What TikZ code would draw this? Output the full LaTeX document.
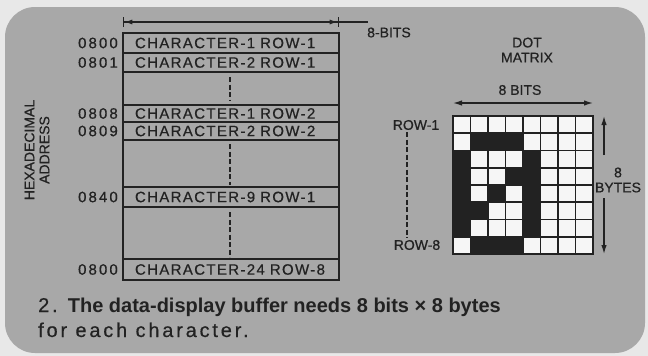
\documentclass[tikz,border=0pt]{standalone}
\usepackage{fontspec}
\setmainfont{Liberation Sans}
\newfontfamily\lblfont{Liberation Sans}[FakeBold=0.6]
\newfontfamily\rowfont{Liberation Sans}[LetterSpace=9, FakeBold=0.6]
\newfontfamily\addrfont{Liberation Sans}[LetterSpace=14, FakeBold=0.6]
\newfontfamily\capfont{Liberation Sans}[LetterSpace=14, FakeBold=0.4]
\usepackage{tikz}
\usetikzlibrary{positioning,arrows.meta}

\definecolor{paper}{RGB}{232,232,232}
\definecolor{panel}{RGB}{168,168,168}
\definecolor{ink}{RGB}{34,34,34}
\definecolor{dotwhite}{RGB}{246,246,246}

\begin{document}
\begin{tikzpicture}[x=1pt, y=-1pt,
            memrow/.style={draw=ink, line width=1.6pt, rectangle, minimum width=216pt, text width=192pt, align=left, inner xsep=12pt, inner ysep=0pt, outer sep=0pt, font=\fontsize{15}{16}\rowfont, text=ink},
            addr/.style={inner sep=0pt, font=\fontsize{15}{16}\addrfont, text=ink},
            lbl/.style={inner sep=2pt, font=\fontsize{14}{15}\lblfont, text=ink},
            dashline/.style={draw=ink, line width=1.3pt, dash pattern=on 5pt off 2.5pt},
            dimbar/.style={draw=ink, line width=1.3pt, {Bar[width=10pt]Latex[length=8pt,width=5pt]}-{Latex[length=8pt,width=5pt]Bar[width=10pt]}},
            dimarrow/.style={draw=ink, line width=1.3pt, {Latex[length=9pt,width=5.5pt]}-{Latex[length=9pt,width=5.5pt]}},
            onearrow/.style={draw=ink, line width=1.3pt, -{Latex[length=9pt,width=5.5pt]}},
            gridline/.style={draw=ink, line width=1.6pt}
        ]

        % Hintergrund
        \useasboundingbox (0,0) rectangle (648,356);
        \fill[paper] (0,0) rectangle (648,356);
        \fill[panel, rounded corners=30pt] (5,7) rectangle (645,353);

        % Speicherzeilen
        \node[memrow, minimum height=20pt] (r1) at (231,43) {CHARACTER-1 ROW-1};
        \node[memrow, minimum height=19pt, below=0pt of r1] (r2) {CHARACTER-2 ROW-1};
        \node[memrow, minimum height=33pt, below=0pt of r2] (g1) {};
        \node[memrow, minimum height=17pt, below=0pt of g1] (r3) {CHARACTER-1 ROW-2};
        \node[memrow, minimum height=18pt, below=0pt of r3] (r4) {CHARACTER-2 ROW-2};
        \node[memrow, minimum height=47pt, below=0pt of r4] (g2) {};
        \node[memrow, minimum height=20pt, below=0pt of g2] (r5) {CHARACTER-9 ROW-1};
        \node[memrow, minimum height=52pt, below=0pt of r5] (g3) {};
        \node[memrow, minimum height=21pt, below=0pt of g3] (r6) {CHARACTER-24 ROW-8};

        \draw[dashline] ([xshift=-1pt, yshift=-5pt]g1.north) -- ([xshift=-1pt, yshift=5pt]g1.south);
        \draw[dashline] ([xshift=-1pt, yshift=-4pt]g2.north) -- ([xshift=-1pt, yshift=2pt]g2.south);
        \draw[dashline] ([xshift=-1pt, yshift=-5pt]g3.north) -- ([xshift=-1pt, yshift=2pt]g3.south);

        % Adressen
        \node[addr, left=5pt of r1] (a1) {0800};
        \node[addr, left=5pt of r2] (a2) {0801};
        \node[addr, left=5pt of r3] (a3) {0808};
        \node[addr, left=5pt of r4] (a4) {0809};
        \node[addr, left=5pt of r5] (a5) {0840};
        \node[addr, left=5pt of r6] (a6) {0800};
        \node[lbl, rotate=90, align=center] (hexa) at (37,150) {HEXADECIMAL\\ADDRESS};

        % Breite 8 Bit
        \coordinate (wl) at ([yshift=11pt]r1.north west);
        \coordinate (wr) at ([yshift=11pt]r1.north east);
        \draw[dimbar] (wl) -- (wr);
        \draw[draw=ink, line width=1.3pt] (wr) -- ++(29,0) coordinate (wx);
        \node[lbl] (bits) at (389,32.5) {8-BITS};

        % Punktmatrix
        \node[lbl, align=center] (dotm) at (527,50) {DOT\\MATRIX};
        \node[draw=ink, line width=1.6pt, fill=dotwhite, rectangle, minimum width=140pt, minimum height=138pt, inner sep=0pt, outer sep=0pt, anchor=north west] (dm) at (453,116) {};
        \foreach \c/\r in {1/1,2/1,3/1, 0/2,4/2, 0/3,3/3,4/3, 0/4,2/4,4/4, 0/5,1/5,4/5, 0/6,4/6, 1/7,2/7,3/7}
            \fill[ink] (453+17.5*\c,116+17.25*\r) rectangle ++(17.5,17.25);
        \foreach \i in {1,...,7} {
            \draw[gridline] (453+17.5*\i,116) -- ++(0,138);
            \draw[gridline] (453,116+17.25*\i) -- ++(140,0);
        }
        \draw[draw=ink, line width=1.6pt] (dm.north west) rectangle (dm.south east);

        \node[lbl] (eightbits) at (520,90) {8 BITS};
        \draw[dimarrow] ([yshift=13pt]dm.north west) -- ([yshift=13pt]dm.north east);

        \node[lbl, align=center] (bytes) at (618,180) {8\\BYTES};
        \coordinate (bt) at ([xshift=11pt]dm.north east);
        \coordinate (bb) at ([xshift=11pt]dm.south east);
        \draw[onearrow] ([yshift=-39pt]bt) -- (bt);
        \draw[onearrow] ([yshift=56pt]bb) -- (bb);

        \node[lbl] (rowa) at (416,125) {ROW-1};
        \node[lbl] (rowb) at (417,245) {ROW-8};
        \draw[dashline] ([xshift=-9pt]rowa.south) -- ([xshift=-10pt]rowb.north);

        % Bildunterschrift
        \node[anchor=base west, inner sep=0pt, text=ink, font=\fontsize{20}{25}\selectfont] (cap1) at (38,312) {{\capfont 2.} \textbf{The data-display buffer needs 8 bits × 8 bytes}};
        \node[anchor=base west, inner sep=0pt, text=ink, font=\fontsize{20}{25}\capfont] (cap2) at ([yshift=-25pt]cap1.base west) {for each character.};

    \end{tikzpicture}
\end{document}
